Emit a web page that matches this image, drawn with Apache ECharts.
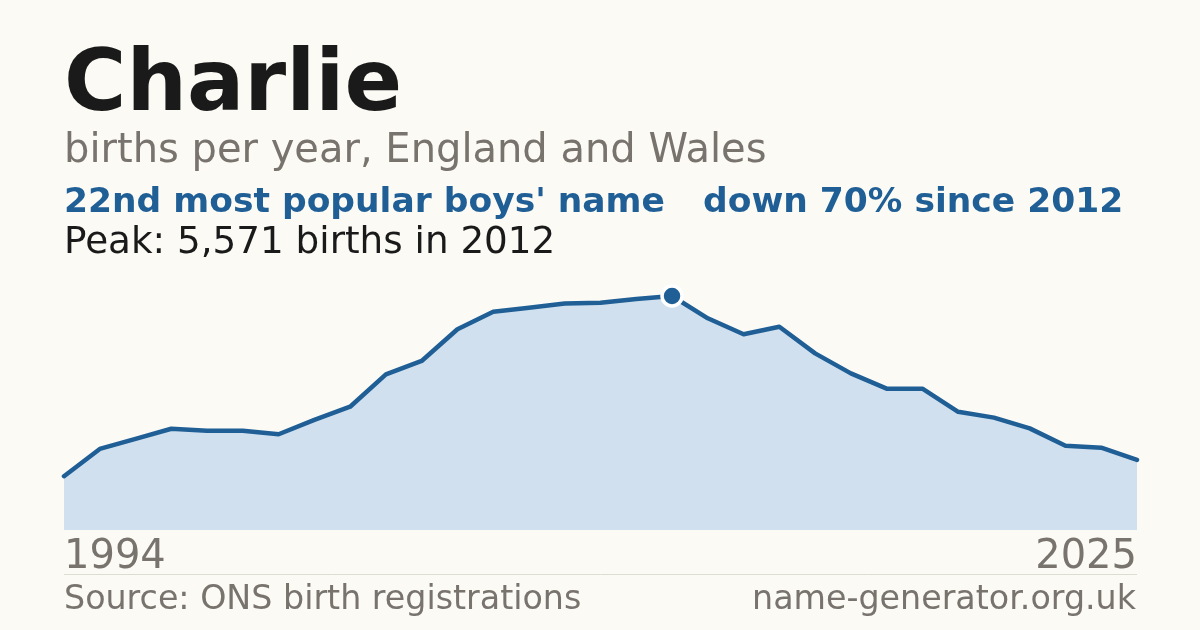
<!DOCTYPE html>
<html>
<head>
<meta charset="utf-8">
<script src="https://cdn.jsdelivr.net/npm/echarts@6/dist/echarts.min.js"></script>
<style>
  html, body { margin: 0; padding: 0; background: #fbfaf5; }
  #chart { width: 1200px; height: 630px; }
</style>
</head>
<body>
<div id="chart"></div>
<script>
// Years shown (ONS: 1994 decadal, then annual from 1996)
const years = ['1994','1996','1997','1998','1999','2000','2001','2002','2003','2004','2005',
  '2006','2007','2008','2009','2010','2011','2012','2013','2014','2015','2016','2017',
  '2018','2019','2020','2021','2022','2023','2024','2025'];
// Births per year named Charlie
const births = [1280, 1930, 2170, 2410, 2365, 2365, 2280, 2620, 2935, 3705, 4025,
  4780, 5195, 5290, 5395, 5410, 5500, 5571, 5040, 4660, 4840, 4205, 3730,
  3365, 3365, 2815, 2675, 2420, 2005, 1960, 1670];
const titleText = 'Charlie';
const subtitleText = 'births per year, England and Wales';
const rankText = "22nd most popular boys' name";
const changeText = 'down 70% since 2012';
const peakText = 'Peak: 5,571 births in 2012';
const sourceText = 'Source: ONS birth registrations';
const siteText = 'name-generator.org.uk';

const FONT = '"DejaVu Sans", sans-serif';
const GREY = '#78736d';
const BLUE = '#1f5f96';
const DARK = '#1a1a1a';

const chart = echarts.init(document.getElementById('chart'), null, { renderer: 'canvas' });
const lastIdx = years.length - 1;

chart.setOption({
  backgroundColor: '#fbfaf5',
  animation: false,
  grid: { left: 64, right: 63, top: 278, bottom: 100, containLabel: false },
  xAxis: {
    type: 'category',
    data: years,
    boundaryGap: false,
    axisLine: { show: false },
    axisTick: { show: false },
    splitLine: { show: false },
    axisLabel: {
      show: true,
      interval: (i) => i === 0 || i === lastIdx,
      margin: 8,
      color: GREY,
      fontFamily: FONT,
      fontSize: 40,
      alignMinLabel: 'left',
      alignMaxLabel: 'right',
      verticalAlign: 'top'
    }
  },
  yAxis: {
    type: 'value',
    min: 0,
    max: 6000,
    show: false,
    splitLine: { show: false }
  },
  series: [{
    type: 'line',
    data: births,
    symbol: 'none',
    lineStyle: { color: BLUE, width: 4.5, join: 'round', cap: 'round' },
    areaStyle: { color: '#d0e0ef', opacity: 1 },
    markPoint: {
      data: [{ type: 'max' }],
      symbol: 'circle',
      symbolSize: 20,
      itemStyle: { color: BLUE, borderColor: '#ffffff', borderWidth: 3.5 },
      label: { show: false }
    },
    z: 2
  }],
  graphic: [
    { type: 'text', left: 64, top: 45, style: { text: titleText, font: 'bold 85px ' + FONT, fill: DARK } },
    { type: 'text', x: 64, y: 151.5, style: { text: subtitleText, font: '40px ' + FONT, fill: GREY, verticalAlign: 'middle' } },
    { type: 'text', x: 64, y: 203, style: { text: rankText, font: 'bold 34.5px ' + FONT, fill: BLUE, verticalAlign: 'middle' } },
    { type: 'text', x: 703, y: 203, style: { text: changeText, font: 'bold 34.5px ' + FONT, fill: BLUE, verticalAlign: 'middle' } },
    { type: 'text', x: 64, y: 243.5, style: { text: peakText, font: '37.3px ' + FONT, fill: DARK, verticalAlign: 'middle' } },
    { type: 'line', shape: { x1: 64, y1: 574.5, x2: 1137, y2: 574.5 }, style: { stroke: '#dedbd3', lineWidth: 1 } },
    { type: 'text', x: 64, y: 600, style: { text: sourceText, font: '33.3px ' + FONT, fill: GREY, verticalAlign: 'middle' } },
    { type: 'text', x: 1136, y: 600, style: { text: siteText, font: '33.3px ' + FONT, fill: GREY, verticalAlign: 'middle', align: 'right' } }
  ]
});
</script>
</body>
</html>
